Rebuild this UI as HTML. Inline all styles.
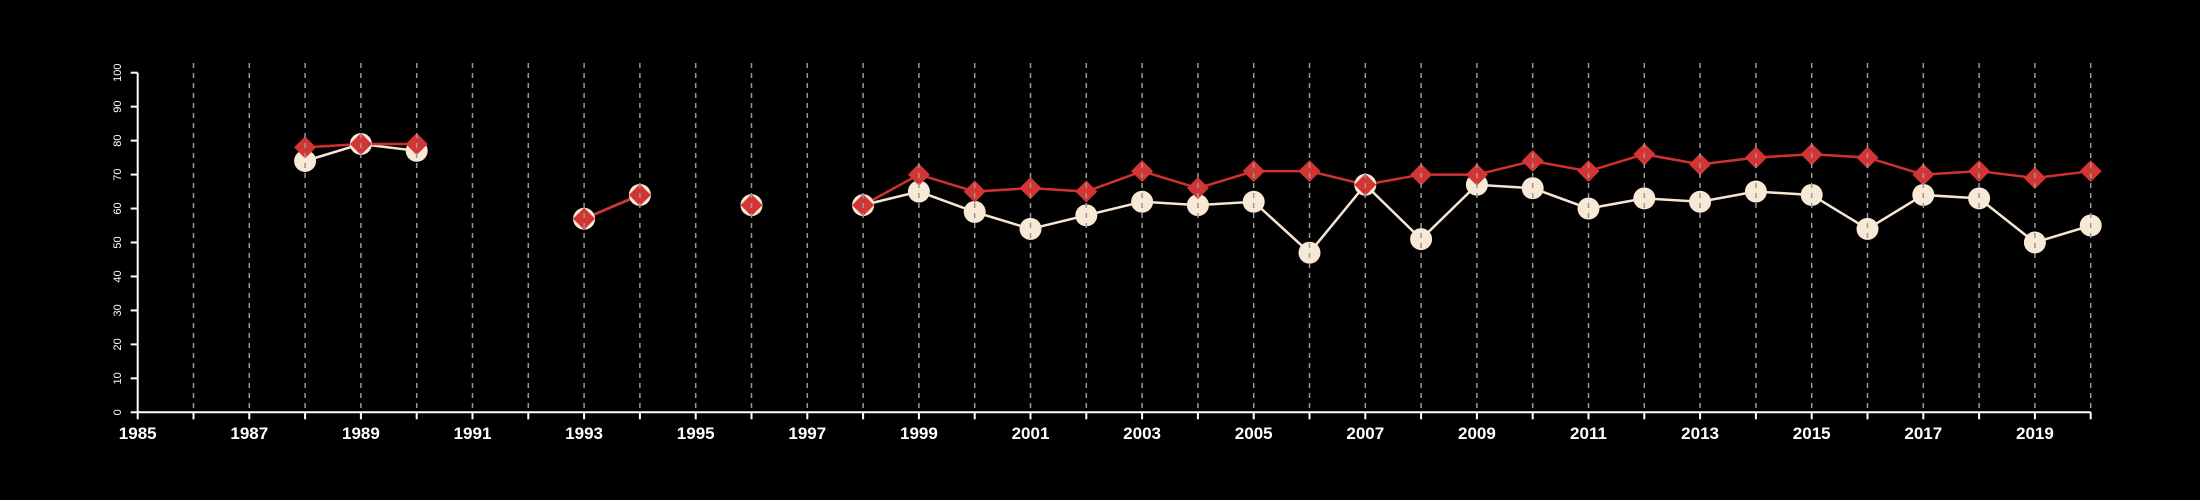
<!DOCTYPE html>
<html><head><meta charset="utf-8"><style>
html,body{margin:0;padding:0;background:#000;}
svg{display:block;}
text{font-family:"Liberation Sans",sans-serif;fill:#fff;}
</style></head><body>
<svg id="chart" width="2200" height="500"></svg>
<script>
const years = [];
for (let y = 1988; y <= 2020; y++) years.push(y);
const seriesCircle = [74,79,77,null,null,57,64,null,61,null,61,65,59,54,58,62,61,62,47,67,51,67,66,60,63,62,65,64,54,64,63,50,55];
const seriesDiamond = [78,79,79,null,null,57,64,null,61,null,61,70,65,66,65,71,66,71,71,67,70,70,74,71,76,73,75,76,75,70,71,69,71];
const yTicks = [0,10,20,30,40,50,60,70,80,90,100];
const xLabels = [1985,1987,1989,1991,1993,1995,1997,1999,2001,2003,2005,2007,2009,2011,2013,2015,2017,2019];

const NS = "http://www.w3.org/2000/svg";
const svg = document.getElementById('chart');
const X = v => 137.7 + (v - 1985) * 55.8;
const Y = v => 412.3 - v * 3.396;
function mk(tag, attrs, parent) {
  const e = document.createElementNS(NS, tag);
  for (const k in attrs) e.setAttribute(k, attrs[k]);
  (parent || svg).appendChild(e);
  return e;
}
function lines(vals, color, name) {
  let seg = [];
  const flush = () => {
    if (seg.length > 1) {
      const p = mk('polyline', {points: seg.join(' '), fill: 'none', stroke: color, 'stroke-width': 2.5});
      
      
    }
    seg = [];
  };
  vals.forEach((v, i) => { if (v == null) flush(); else seg.push(X(years[i]) + ',' + Y(v)); });
  flush();
}
lines(seriesCircle, '#f5e6d3', 'circle-series-line');
lines(seriesDiamond, '#d03030', 'diamond-series-line');
seriesCircle.forEach((v, i) => {
  if (v == null) return;
  const c = mk('circle', {cx: X(years[i]), cy: Y(v), r: 11, fill: '#f8e8d6'});
  
  
});
seriesDiamond.forEach((v, i) => {
  if (v == null) return;
  const x = X(years[i]), y = Y(v), s = 11;
  const d = mk('polygon', {points: `${x},${y-s} ${x+s},${y} ${x},${y+s} ${x-s},${y}`, fill: '#d33535'});
  
  
});
for (let yr = 1986; yr <= 2020; yr++) {
  const g = mk('line', {x1: X(yr), x2: X(yr), y1: 63, y2: 411, stroke: '#999', 'stroke-width': 1.5, 'stroke-dasharray': '5,5'});
  
  
}
const ax = mk('line', {x1: X(1985), x2: X(2020), y1: Y(0), y2: Y(0), stroke: '#fff', 'stroke-width': 2});


const ay = mk('line', {x1: X(1985), x2: X(1985), y1: Y(0), y2: Y(100), stroke: '#fff', 'stroke-width': 2});


for (let yr = 1985; yr <= 2020; yr++) {
  const t = mk('line', {x1: X(yr), x2: X(yr), y1: Y(0), y2: Y(0) + 7, stroke: '#fff', 'stroke-width': 2});
  
  
}
xLabels.forEach(l => {
  const t = mk('text', {x: X(l), y: 439, 'text-anchor': 'middle', 'font-size': 17, 'font-weight': 'bold'});
  t.textContent = l;
  
  
});
yTicks.forEach(v => {
  const t = mk('line', {x1: X(1985) - 7, x2: X(1985), y1: Y(v), y2: Y(v), stroke: '#fff', 'stroke-width': 2});
  
  
  const l = mk('text', {x: 0, y: 0, 'text-anchor': 'middle', 'font-size': 11, transform: `translate(121,${Y(v)}) rotate(-90)`});
  l.textContent = v;
  
  
});
</script>
</body></html>
